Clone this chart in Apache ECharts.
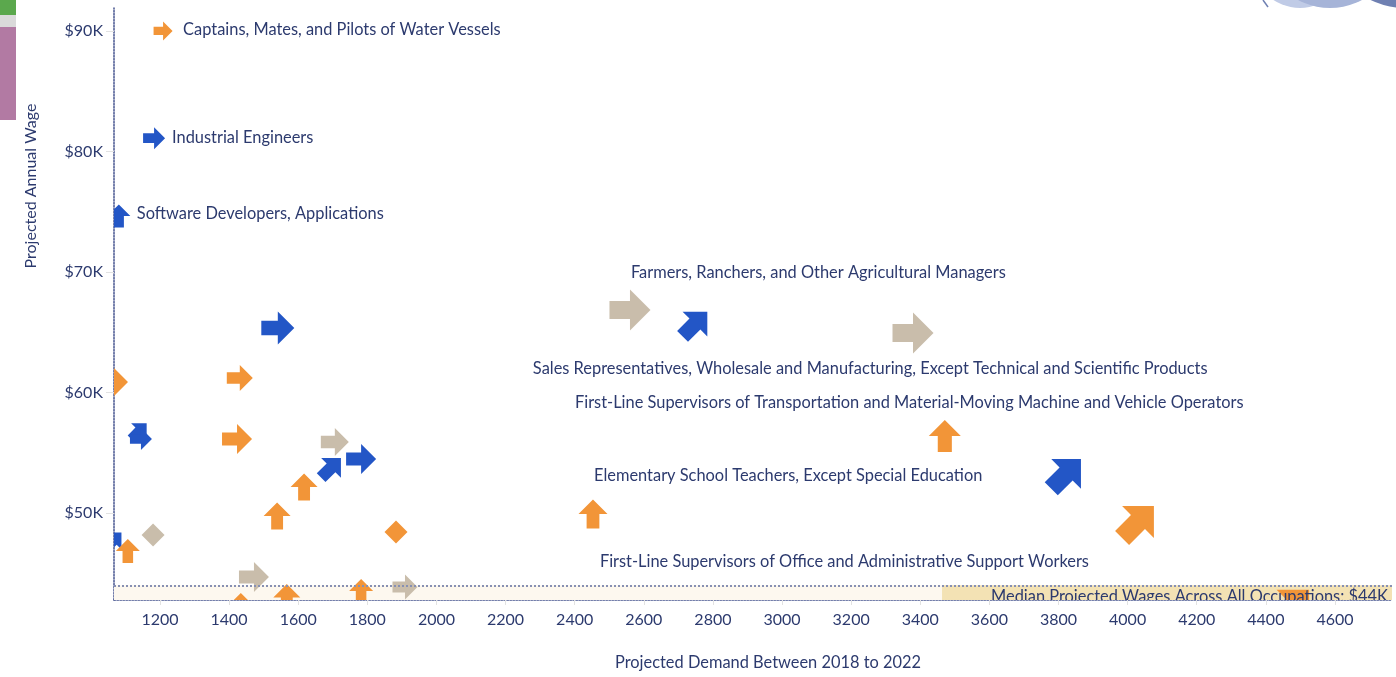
<!DOCTYPE html>
<html>
<head>
<meta charset="utf-8">
<title>Projected Demand vs Projected Annual Wage</title>
<script src="https://cdn.jsdelivr.net/npm/echarts@6/dist/echarts.min.js"></script>
<style>
  html, body { margin: 0; padding: 0; background: #fff; }
  #chart { width: 1396px; height: 677px; }
</style>
</head>
<body>
<div id="chart"></div>
<script>
// axis extents and tick labels
const xMin = 1067, xMax = 4765
const yMin = 42.78, yMax = 91.9
const xTicks = [1200, 1400, 1600, 1800, 2000, 2200, 2400, 2600, 2800, 3000, 3200, 3400, 3600, 3800, 4000, 4200, 4400, 4600]
const yTicks = [50, 60, 70, 80, 90]
const medianWage = 44

// one entry per occupation mark
const demand = [1209, 1183, 1081, 1541, 1431, 1067, 1139, 1145, 1423, 1706, 1782, 1695, 1617, 1539, 1883, 1180,
  1064, 1107, 1472, 1567, 1434, 1782, 1909, 2453, 2560, 2748, 3379, 3471, 3822, 4030, 4478]
const wage = [90.0, 81.1, 74.65, 65.35, 61.2, 60.87, 56.8, 56.14, 56.14, 55.89, 54.48, 53.75, 52.16, 49.75, 48.42, 48.17,
  47.68, 46.85, 44.69, 42.99, 42.37, 43.53, 43.86, 49.92, 66.85, 65.68, 64.94, 56.39, 53.24, 49.25, 42.28]
const group = ['o', 'b', 'b', 'b', 'o', 'o', 'b', 'b', 'o', 'g', 'b', 'b', 'o', 'o', 'o', 'g',
  'b', 'o', 'g', 'o', 'o', 'o', 'g', 'o', 'g', 'b', 'g', 'o', 'b', 'o', 'o']
const trend = ['right', 'right', 'up', 'right', 'right', 'right', 'upright', 'right', 'right', 'right', 'right', 'upright', 'up', 'up', 'flat', 'flat',
  'upright', 'up', 'right', 'up', 'up', 'up', 'right', 'up', 'right', 'upright', 'right', 'up', 'upright', 'upright', 'upright']
const markSize = [19, 22, 23, 33, 26, 28, 22, 22, 30, 28, 30, 28, 27, 27, 23, 23,
  24, 24, 30, 27, 24, 24, 25, 29, 41, 35, 41, 32, 42, 45, 46]

// annotation labels
const labelText = [
  'Captains, Mates, and Pilots of Water Vessels',
  'Industrial Engineers',
  'Software Developers, Applications',
  'Farmers, Ranchers, and Other Agricultural Managers',
  'Sales Representatives, Wholesale and Manufacturing, Except Technical and Scientific Products',
  'First-Line Supervisors of Transportation and Material-Moving Machine and Vehicle Operators',
  'Elementary School Teachers, Except Special Education',
  'First-Line Supervisors of Office and Administrative Support Workers',
  'Median Projected Wages Across All Occupations: $44K'
]
const labelX = [1267, 1235, 1133, 2563, 2279, 2401, 2456, 2473, 4753]
const labelY = [90.08, 81.12, 74.81, 69.92, 61.95, 59.13, 53.07, 45.93, 43.03]

const palette = { o: '#f29538', b: '#2356c6', g: '#c9bdab' }
const angle = { right: 0, up: 90, upright: 45 }
const textColor = '#2c3a6e'
const font = 'Lato, "Open Sans", sans-serif'

// block arrow pointing right, unit box centred on 0,0
const ARROW = [[0.5, 0], [0, -0.5], [0, -0.22], [-0.5, -0.22], [-0.5, 0.22], [0, 0.22], [0, 0.5]]
const DIAMOND = [[0, -0.5], [0.5, 0], [0, 0.5], [-0.5, 0]]

function markPoints (cx, cy, s, kind) {
  if (kind === 'flat') return DIAMOND.map(p => [cx + p[0] * s, cy + p[1] * s])
  const a = angle[kind] * Math.PI / 180
  const c = Math.cos(a), sn = Math.sin(a)
  return ARROW.map(([u, v]) => [cx + (u * c + v * sn) * s, cy + (-u * sn + v * c) * s])
}

const chart = echarts.init(document.getElementById('chart'))
chart.setOption({
  animation: false,
  backgroundColor: '#fff',
  grid: { left: 114, right: 4, top: 8, bottom: 77, containLabel: false, outerBoundsMode: 'none' },
  xAxis: {
    type: 'value',
    min: xMin,
    max: xMax,
    name: 'Projected Demand Between 2018 to 2022',
    nameLocation: 'middle',
    nameGap: 55,
    nameTextStyle: { color: textColor, fontSize: 16.4, fontFamily: font, padding: [0, 0, 0, 30] },
    axisLine: { lineStyle: { color: '#46548f', type: 'dotted', width: 1.5 } },
    axisTick: { show: true, length: 5, customValues: xTicks, lineStyle: { color: '#e2e2e2' } },
    axisLabel: {
      customValues: xTicks, color: textColor, fontSize: 16, fontFamily: font, margin: 12,
      formatter: v => String(v)
    },
    splitLine: { show: false }
  },
  yAxis: {
    type: 'value',
    min: yMin,
    max: yMax,
    axisLine: { show: true, lineStyle: { color: '#46548f', type: 'dotted', width: 1.5 } },
    axisTick: { show: true, length: 8, customValues: yTicks, lineStyle: { color: '#e2e2e2' } },
    axisLabel: {
      customValues: yTicks, color: textColor, fontSize: 16, fontFamily: font, margin: 11,
      formatter: v => '$' + v + 'K'
    },
    splitLine: { show: false }
  },
  graphic: [
    { type: 'rect', shape: { x: 0, y: 0, width: 16, height: 15 }, style: { fill: '#5ba84d' } },
    { type: 'rect', shape: { x: 0, y: 15, width: 16, height: 12 }, style: { fill: '#dadada' } },
    { type: 'rect', shape: { x: 0, y: 27, width: 16, height: 93 }, style: { fill: '#b27aa3' } },
    { type: 'circle', shape: { cx: 1300, cy: -40, r: 48 }, style: { fill: '#c0cbe6' } },
    { type: 'circle', shape: { cx: 1330, cy: -60, r: 68 }, style: { fill: '#a6b4d8' } },
    { type: 'circle', shape: { cx: 1405, cy: -70, r: 78 }, style: { fill: '#6f80b2' } },
    { type: 'line', shape: { x1: 1263, y1: 0, x2: 1268, y2: 7 }, style: { stroke: '#6f80b2', lineWidth: 1.5 } },
    {
      type: 'text', x: 31, y: 186, rotation: Math.PI / 2,
      style: { text: 'Projected Annual Wage', fill: textColor, font: '16px ' + font, align: 'center', verticalAlign: 'middle' }
    }
  ],
  series: [
    {
      // median bands
      type: 'line',
      data: [],
      z: 1,
      markArea: {
        silent: true,
        data: [
          [{ coord: [xMin, medianWage], itemStyle: { color: '#fdf8ef' } }, { coord: [xMax, yMin] }],
          [{ coord: [3463, medianWage], itemStyle: { color: '#f3e2b4' } }, { coord: [xMax, yMin] }]
        ]
      }
    },
    {
      type: 'custom',
      z: 3,
      clip: true,
      data: demand.map((d, i) => [d, wage[i]]),
      encode: { x: 0, y: 1 },
      renderItem: (params, api) => {
        const i = params.dataIndex
        const pt = api.coord([api.value(0), api.value(1)])
        return {
          type: 'polygon',
          shape: { points: markPoints(pt[0], pt[1], markSize[i], trend[i]) },
          style: { fill: palette[group[i]] }
        }
      }
    },
    {
      // median line
      type: 'line',
      data: [],
      z: 5,
      markLine: {
        silent: true,
        symbol: 'none',
        label: { show: false },
        lineStyle: { color: '#8790b3', type: 'dotted', width: 2 },
        data: [{ yAxis: medianWage }]
      }
    },
    {
      type: 'custom',
      z: 6,
      clip: true,
      silent: true,
      data: labelX.map((d, i) => [d, labelY[i]]),
      encode: { x: 0, y: 1 },
      renderItem: (params, api) => {
        const i = params.dataIndex
        const pt = api.coord([api.value(0), api.value(1)])
        return {
          type: 'text',
          x: pt[0],
          y: pt[1],
          style: {
            text: labelText[i], fill: textColor, font: '16.4px ' + font,
            align: i === labelText.length - 1 ? 'right' : 'left', verticalAlign: 'middle'
          }
        }
      }
    }
  ]
})
</script>
</body>
</html>
